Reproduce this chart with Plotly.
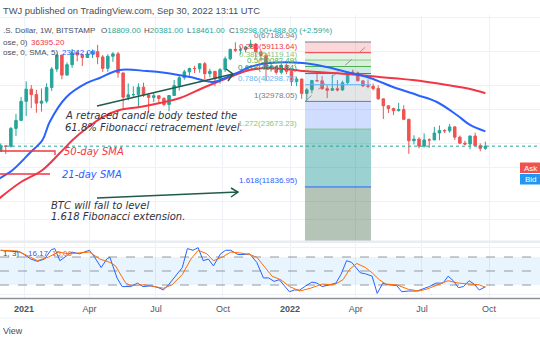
import plotly.graph_objects as go
import pandas as pd
import numpy as np

W, H = 540, 340

# ---------------- data ----------------
FIRST_WEEK = pd.Timestamp("2020-11-30")

opens = [18180, 19360, 19270, 23860, 26280, 33000, 38200, 35800, 32300, 33100,
         39000, 48600, 57500, 45200, 51200, 59000, 57500, 55800, 58200, 59800,
         56200, 49000, 56600, 58300, 46400, 34700, 35700, 35800, 39100, 35600,
         34600, 35300, 34200, 31800, 35400, 39900, 43800, 47000, 48900, 48800,
         51800, 46000, 47300, 43200, 48200, 54900, 61500, 60900, 61300, 63300,
         65500, 59700, 57200, 49400, 50100, 46700, 50800, 47300, 41900, 43100,
         36300, 37900, 42400, 42200, 38400, 37700, 38400, 37800, 41300, 46800,
         46400, 42200, 39700, 39500, 38500, 34000, 31300, 30300, 29500, 29900,
         26600, 20600, 21000, 19300, 20800, 20800, 22600, 23300, 23200, 24300,
         21500, 20000, 19800, 21800, 19400, 18809]
highs = [19920, 19420, 24300, 28400, 34800, 41950, 40100, 37900, 38500, 41000,
         49700, 58350, 57500, 52600, 61800, 61000, 58400, 60100, 61400, 64900,
         57500, 58000, 59500, 59600, 46500, 40900, 39500, 41000, 41300, 36000,
         36600, 35400, 34600, 35400, 42600, 45300, 48200, 49400, 50500, 52000,
         52900, 48800, 47300, 49200, 56500, 62000, 67000, 63700, 64200, 69000,
         66400, 59800, 59000, 51900, 50700, 51900, 52000, 47500, 44400, 43400,
         38700, 42600, 45800, 44700, 40000, 45400, 42600, 42300, 46900, 48200,
         47100, 42400, 42900, 40800, 40000, 34200, 31400, 30600, 32400, 31500,
         26800, 22000, 21500, 22500, 21200, 24300, 24700, 23600, 25200, 24500,
         21900, 20600, 21900, 22700, 19950, 20381]
lows = [18110, 17570, 19000, 21800, 26100, 27700, 30400, 28800, 29200, 32300,
        37400, 47000, 43000, 45000, 49300, 53300, 50400, 55500, 55500, 51500,
        47000, 47000, 53000, 43800, 30000, 33400, 34800, 31000, 34800, 28800,
        32700, 32100, 31100, 29300, 35300, 37500, 42800, 43900, 46300, 46500,
        43000, 44000, 39600, 40800, 46900, 54000, 59600, 57800, 59300, 62300,
        55600, 53500, 42000, 47100, 45500, 45600, 45700, 39700, 39600, 34000,
        32900, 36300, 41700, 38000, 34300, 37500, 37200, 37600, 40500, 45100,
        42000, 39200, 38600, 37600, 33700, 26700, 28700, 28000, 29300, 26500,
        17600, 19700, 18800, 19000, 18900, 20700, 20700, 22600, 22700, 20800,
        19800, 19500, 18600, 19400, 18150, 18461]
closes = [19360, 19270, 23860, 26280, 33000, 38200, 35800, 32300, 33100, 39000,
          48600, 57500, 45200, 51200, 59000, 57500, 55800, 58200, 59800, 56200,
          49000, 56600, 58300, 46400, 34700, 35700, 35800, 39100, 35600, 34600,
          35300, 34200, 31800, 35400, 39900, 43800, 47000, 48900, 48800, 51800,
          46000, 47300, 43200, 48200, 54900, 61500, 60900, 61300, 63300, 65500,
          59700, 57200, 49400, 50100, 46700, 50800, 47300, 41900, 43100, 36300,
          37900, 42400, 42200, 38400, 37700, 38400, 37800, 41300, 46800, 46400,
          42200, 39700, 39500, 38500, 34000, 31300, 30300, 29500, 29900, 26600,
          20600, 21000, 19300, 20800, 20790, 22600, 23300, 23200, 24300, 21500,
          20000, 19800, 21800, 19400, 18800, 19298]

# moving averages (week index from FIRST_WEEK, price)
sma21_week = [-0.3, 2.35, 5.7, 8.2, 9.6, 12.9, 16.9, 19.4, 23.3, 28.6, 32.5, 37.1,
              41.6, 43.5, 46.3, 48.8, 52.7, 59.2, 63.9, 67.8, 72.4, 76.9, 81.6,
              85.5, 89.4, 92.0, 95.0]
sma21_val = [13100, 14510, 17780, 20780, 25780, 34770, 41130, 43670, 48050, 47480,
             46360, 44190, 41630, 43150, 46360, 49810, 52260, 52260, 49810, 46910,
             43670, 39200, 35620, 32750, 28030, 24870, 23042.09]
sma50_week = [-0.3, 3.7, 8.2, 11.6, 14.1, 16.9, 20.0, 23.3, 27.3, 31.2, 35.1, 39.6,
              44.9, 48.8, 52.7, 59.2, 67.8, 74.3, 80.8, 87.5, 92.0, 95.0]
sma50_val = [10300, 12410, 14510, 17780, 20780, 23990, 27360, 29770, 30850, 32360,
             34360, 38730, 44190, 48050, 49210, 47480, 45810, 44190, 42630, 40160,
             38280, 36395.20]

# stochastic %K / %D (week index, value)
k_week = [0, 3.9, 5.9, 7.2, 8.6, 9.9, 10.6, 11.6, 13, 14, 15.4, 17.4, 18.4, 19.7,
          20.8, 21.4, 22.8, 23.8, 25.5, 26.8, 27.9, 29.5, 30.9, 31.9, 32.9, 34.3,
          35.6, 36.6, 37.7, 38.7, 39.7, 40.7, 41.7, 43.1, 44.1, 45.1, 46.5, 47.8,
          48.8, 50.2, 51.5, 52.5, 53.6, 54.6, 56.6, 57.6, 58.6, 59.6, 61, 62, 63,
          64.4, 65.7, 66.7, 67.8, 68.8, 69.4, 70.5, 71.5, 72.8, 73.8, 74.9, 75.9,
          76.9, 77.6, 78.6, 79.9, 81.6, 82.6, 84, 85.3, 86.7, 87.7, 88.7, 89.7,
          90.7, 91.8, 92.8, 93.8, 95]
k_val = [94.4, 90.5, 75.7, 70.6, 75.7, 95.6, 98, 72.1, 83.2, 90.5, 86.8, 94.4, 79.6,
         57.4, 75.7, 79.6, 35.2, 16.6, 16.6, 24, 16.6, 18.1, 14.4, 9.3, 20.4, 38.9,
         57.4, 98, 94.4, 100, 72.1, 75.7, 60.9, 86.8, 94.4, 94.4, 85.3, 85.3, 86.8,
         68.4, 35.2, 35.2, 27.8, 31.4, 5.6, 9.3, 9.3, 16.6, 26.2, 24, 16.6, 20.4, 24,
         42.6, 72.1, 68.4, 60.9, 46.1, 44, 38.9, 2, 24, 20.4, 20.4, 19, 5.6, 7.1, 7.1,
         10.8, 16.6, 24, 24, 38.9, 29.2, 14.4, 16.6, 29.2, 22, 9.3, 16.17]
d_week = [0, 3.2, 5.2, 7.2, 9.3, 11.3, 13.3, 15.4, 17.4, 19.4, 21.4, 22.5, 23.5,
          24.5, 25.5, 28.2, 30.2, 31.9, 33.6, 35.6, 37.3, 38.7, 40.4, 41.7, 43.4,
          45.1, 47.1, 48.8, 50.2, 51.9, 53.2, 54.9, 56.6, 58.6, 60.7, 63, 65.4,
          67.1, 68.4, 69.8, 71.5, 72.8, 74.2, 75.5, 77.6, 79.9, 82, 83.6, 85.7,
          87.7, 89.7, 91.8, 93.8, 95]
d_val = [94.3, 92.8, 83.2, 72.1, 79.5, 90.6, 86.9, 88.4, 90.6, 75.8, 68.4, 61, 42.5,
         24.1, 18.9, 20.4, 16.7, 13, 20.4, 42.5, 75.8, 94.3, 86.9, 72.1, 79.5, 90.6,
         88.4, 85.4, 79.5, 57.3, 38.8, 31.4, 16.7, 7.1, 13, 21.9, 20.4, 31.4, 53.6,
         66.2, 57.3, 46.2, 31.4, 21.9, 20.4, 10.8, 7.1, 11.5, 20.4, 29.2, 24.1, 21.9,
         20.4, 15.06]

# Fibonacci tool
fib_ratios = ["0", "0.236", "0.382", "0.5", "0.618", "0.786", "1", "1.272", "1.618"]
fib_prices = [67186.94, 59113.64, 54119.14, 50082.49, 46045.84, 40298.75, 32978.05,
              23673.23, 11836.95]
fib_start, fib_end = "2022-01-21 12:00", "2022-04-22 02:00"
fib_bottom = 5000

tick_dates = ["2021-01-01", "2021-04-01", "2021-07-01", "2021-10-01",
              "2022-01-01", "2022-04-01", "2022-07-01", "2022-10-01"]
tick_text = ["<b>2021</b>", "Apr", "Jul", "Oct", "<b>2022</b>", "Apr", "Jul", "Oct"]
grid_prices = [8000, 10000, 15000, 20000, 30000, 40000, 60000, 90000]

X_RANGE = ["2020-11-29 01:40", "2022-12-09 23:00"]

# ---------------- styling ----------------
UP, DOWN = "#26a69a", "#ef5350"
BLUE, RED, ORANGE = "#2962ff", "#f23645", "#ff6d00"
GRID = "#eef1f6"
TXT = "#4a4d57"
fib_line_colors = ["#787b86", "#f23645", "#81c784", "#4caf50", "#089981", "#64b5f6",
                   "#787b86", "#81c784", "#2962ff"]
fib_fill_colors = ["rgba(242,54,69,0.2)", "rgba(129,199,132,0.22)", "rgba(76,175,80,0.2)",
                   "rgba(8,153,129,0.2)", "rgba(100,181,246,0.22)", "rgba(120,123,134,0.2)",
                   "rgba(41,98,255,0.22)", "rgba(8,140,140,0.4)", "rgba(67,110,77,0.4)"]


def wk(i):
    return FIRST_WEEK + pd.to_timedelta(np.asarray(i, dtype=float) * 7, unit="D")


def px(x):
    return x / W


def py(y):
    return 1 - y / H


dates = wk(range(len(opens)))

fig = go.Figure()

# Fibonacci bands
levels = fib_prices + [fib_bottom]
for k in range(len(fib_prices)):
    top, bot = levels[k], levels[k + 1]
    fig.add_trace(go.Scatter(
        x=[fib_start, fib_end, fib_end, fib_start, fib_start],
        y=[top, top, bot, bot, top], mode="lines", fill="toself",
        fillcolor=fib_fill_colors[k], line=dict(width=0), hoverinfo="skip",
        showlegend=False, xaxis="x", yaxis="y"))
for k, p in enumerate(fib_prices):
    fig.add_trace(go.Scatter(
        x=[fib_start, fib_end], y=[p, p], mode="lines",
        line=dict(color=fib_line_colors[k], width=1), hoverinfo="skip",
        showlegend=False, xaxis="x", yaxis="y"))
# trend line of the fib tool
fig.add_trace(go.Scatter(
    x=[fib_start, fib_end], y=[fib_prices[6], fib_prices[0]], mode="lines",
    line=dict(color="#9598a1", width=1, dash="dash"), hoverinfo="skip",
    showlegend=False, xaxis="x", yaxis="y"))

# last price line
fig.add_trace(go.Scatter(
    x=X_RANGE, y=[closes[-1], closes[-1]], mode="lines",
    line=dict(color=UP, width=1, dash="dot"), hoverinfo="skip",
    showlegend=False, xaxis="x", yaxis="y"))

# moving averages
fig.add_trace(go.Scatter(x=wk(sma50_week), y=sma50_val, mode="lines",
                         line=dict(color=RED, width=2, shape="spline"),
                         hoverinfo="skip", showlegend=False, xaxis="x", yaxis="y"))
fig.add_trace(go.Scatter(x=wk(sma21_week), y=sma21_val, mode="lines",
                         line=dict(color=BLUE, width=2, shape="spline"),
                         hoverinfo="skip", showlegend=False, xaxis="x", yaxis="y"))

# candles
fig.add_trace(go.Candlestick(
    x=dates, open=opens, high=highs, low=lows, close=closes,
    increasing=dict(line=dict(color=UP, width=1), fillcolor=UP),
    decreasing=dict(line=dict(color=DOWN, width=1), fillcolor=DOWN),
    whiskerwidth=0, hoverinfo="skip", showlegend=False, xaxis="x", yaxis="y"))

# stochastic pane
fig.add_trace(go.Scatter(x=X_RANGE + X_RANGE[::-1], y=[80, 80, 20, 20], mode="lines",
                         fill="toself", fillcolor="rgba(33,150,243,0.1)",
                         line=dict(width=0), hoverinfo="skip", showlegend=False,
                         xaxis="x2", yaxis="y2"))
for lv in (80, 50, 20):
    fig.add_trace(go.Scatter(x=X_RANGE, y=[lv, lv], mode="lines",
                             line=dict(color="#9598a1", width=1, dash="dash"),
                             hoverinfo="skip", showlegend=False, xaxis="x2", yaxis="y2"))
fig.add_trace(go.Scatter(x=wk(k_week), y=k_val, mode="lines",
                         line=dict(color=BLUE, width=1), hoverinfo="skip",
                         showlegend=False, xaxis="x2", yaxis="y2"))
fig.add_trace(go.Scatter(x=wk(d_week), y=d_val, mode="lines",
                         line=dict(color=ORANGE, width=1), hoverinfo="skip",
                         showlegend=False, xaxis="x2", yaxis="y2"))

# ---------------- layout ----------------
LOG_TOP, LOG_BOT = 4.9677, 3.7923
fig.update_layout(
    width=W, height=H, margin=dict(l=0, r=0, t=0, b=0),
    paper_bgcolor="white", plot_bgcolor="white", showlegend=False,
    xaxis=dict(domain=[0, 1], range=X_RANGE, type="date", anchor="y",
               tickvals=tick_dates, showticklabels=False, showgrid=True,
               gridcolor=GRID, gridwidth=1, zeroline=False, showline=False,
               rangeslider=dict(visible=False), fixedrange=True),
    yaxis=dict(domain=[py(241), py(15)], type="log", range=[LOG_BOT, LOG_TOP],
               tickvals=grid_prices, showticklabels=False, showgrid=True,
               gridcolor=GRID, zeroline=False, showline=False, anchor="x"),
    xaxis2=dict(domain=[0, 1], range=X_RANGE, type="date", anchor="y2",
                tickvals=tick_dates, ticktext=tick_text, showgrid=True,
                gridcolor=GRID, zeroline=False, showline=False, ticks="",
                ticklabelstandoff=4,
                tickfont=dict(family="Liberation Sans", size=9, color="#50535e")),
    yaxis2=dict(domain=[py(298), py(243)], range=[-7.86, 110], tickvals=[0, 100],
                showticklabels=False, showgrid=True, gridcolor=GRID,
                zeroline=False, showline=False, anchor="x2"),
)

shapes = []
# pane separator and bottom axis line
shapes.append(dict(type="rect", xref="paper", yref="paper", x0=0, x1=1,
                   y0=py(243), y1=py(240.5), fillcolor="#e9ecf1", line=dict(width=0)))
shapes.append(dict(type="line", xref="paper", yref="paper", x0=0, x1=1,
                   y0=py(298.5), y1=py(298.5), line=dict(color="#8f929b", width=1.5)))
shapes.append(dict(type="line", xref="paper", yref="paper", x0=0, x1=1,
                   y0=py(318), y1=py(318), line=dict(color="#f0f2f5", width=1)))
# red marker lines near labels
shapes.append(dict(type="path", xref="paper", yref="paper",
                   path=f"M {px(0)} {py(151)} L {px(55)} {py(151)} L {px(55)} {py(155)}",
                   line=dict(color=RED, width=1.3)))
shapes.append(dict(type="line", xref="paper", yref="paper", x0=px(0), x1=px(50),
                   y0=py(174), y1=py(174), line=dict(color=RED, width=1.3)))
# dark green arrows
AR = "#1f5c4b"
shapes.append(dict(type="path", xref="paper", yref="paper",
                   path=f"M {px(97)} {py(198)} L {px(238)} {py(192)} "
                        f"M {px(231)} {py(188)} L {px(238)} {py(192)} L {px(231)} {py(197)}",
                   line=dict(color=AR, width=1.5)))
shapes.append(dict(type="path", xref="paper", yref="paper",
                   path=f"M {px(97)} {py(106)} L {px(233)} {py(74)} "
                        f"M {px(226)} {py(69)} L {px(233)} {py(74)} L {px(228)} {py(81)}",
                   line=dict(color=AR, width=1.5)))
# Ask / Bid boxes
shapes.append(dict(type="rect", xref="paper", yref="paper", x0=px(520), x1=px(541),
                   y0=py(173), y1=py(162.5), fillcolor="#ef5350", line=dict(width=0)))
shapes.append(dict(type="rect", xref="paper", yref="paper", x0=px(520), x1=px(541),
                   y0=py(184.5), y1=py(174), fillcolor="#2196f3", line=dict(width=0)))
fig.update_layout(shapes=shapes)

ann = []


def label(x, y, text, color=TXT, size=8.5, anchor="left", family="Liberation Sans"):
    ann.append(dict(xref="paper", yref="paper", x=px(x), y=py(y), text=text,
                    showarrow=False, xanchor=anchor, yanchor="middle",
                    font=dict(family=family, size=size, color=color)))


def tv(v):
    return f"<span style='color:{UP}'>{v}</span>"


HS = 8.0
label(0.5, 10, "TWJ published on TradingView.com, Sep 30, 2022 13:11 UTC", size=9.4)
label(0.5, 30, ".S. Dollar, 1W, BITSTAMP", size=HS)
label(99, 30, "O" + tv("18809.00"), size=HS)
label(142, 30, "H" + tv("20381.00"), size=HS)
label(185, 30, "L" + tv("18461.00"), size=HS)
label(227, 30, "C" + tv("19298.00"), size=HS)
label(266, 30, tv("+488.00 (+2.59%)"), size=HS)
label(0.5, 42, "ose, 0)", size=HS)
label(29, 42, "36395.20", color=RED, size=HS)
label(0.5, 52, "ose, 0, SMA, 5)", size=HS)
label(60, 52, "23042.09", color=BLUE, size=HS)
label(0.5, 253, "1, 3)", size=8)
label(26, 253, "16.17", color=BLUE, size=8)
label(50, 253, "15.06", color=ORANGE, size=8)
label(0.5, 331, "View", size=9)
label(530.5, 168, "Ask", color="white", size=8, anchor="center")
label(530.5, 179.5, "Bid", color="white", size=8, anchor="center")

DJ = "DejaVu Sans"
label(63, 115, "<i>A retraced candle body tested the</i>", color="#2f323c", size=10, family=DJ)
label(63, 127, "<i>61.8% Fibonacci retracement level.</i>", color="#2f323c", size=10, family=DJ)
label(62, 151, "<i>50-day SMA</i>", color=RED, size=10, family=DJ)
label(60, 174, "<i>21-day SMA</i>", color=BLUE, size=10, family=DJ)
label(49, 205, "<i>BTC will fall to level</i>", color="#2f323c", size=10, family=DJ)
label(49, 216, "<i>1.618 Fibonacci extension.</i>", color="#2f323c", size=10, family=DJ)

for k, (r, p) in enumerate(zip(fib_ratios, fib_prices)):
    ann.append(dict(xref="x", yref="y", x=fib_start, y=np.log10(p),
                    text=f"{r}({p:.2f})", showarrow=False, xanchor="right",
                    yanchor="middle", xshift=-6, yshift=6,
                    font=dict(family="Liberation Sans", size=8, color=fib_line_colors[k])))

fig.update_layout(annotations=ann)
fig.write_html("out.html")
